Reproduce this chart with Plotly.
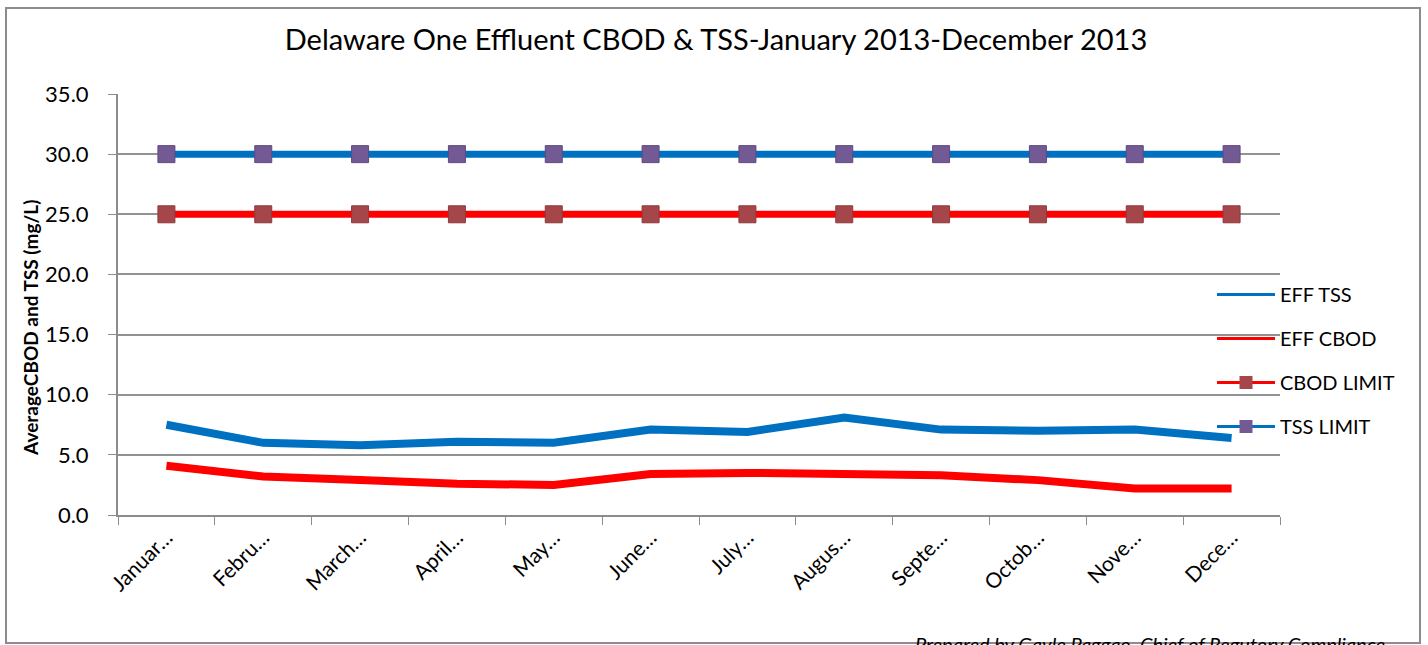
import plotly.graph_objects as go

months = ["Januar…", "Febru…", "March…", "April…", "May…", "June…",
          "July…", "Augus…", "Septe…", "Octob…", "Nove…", "Dece…"]
eff_tss = [7.5, 6.0, 5.8, 6.1, 6.0, 7.1, 6.9, 8.1, 7.1, 7.0, 7.1, 6.4]
eff_cbod = [4.1, 3.2, 2.9, 2.6, 2.5, 3.4, 3.5, 3.4, 3.3, 2.9, 2.2, 2.2]
cbod_limit = [25.0] * 12
tss_limit = [30.0] * 12

BLUE = "#0070C0"
RED = "#FF0000"
CBOD_MK = "#A5464A"
TSS_MK = "#735A95"
FONT = "Lato"

fig = go.Figure()

# data traces (no legend)
fig.add_trace(go.Scatter(x=months, y=eff_tss, mode="lines", line=dict(color=BLUE, width=8),
                         showlegend=False, name="EFF TSS"))
fig.add_trace(go.Scatter(x=months, y=eff_cbod, mode="lines", line=dict(color=RED, width=8),
                         showlegend=False, name="EFF CBOD"))
fig.add_trace(go.Scatter(x=months, y=cbod_limit, mode="lines+markers", line=dict(color=RED, width=7),
                         marker=dict(symbol="square", size=17, color=CBOD_MK, line=dict(color="#8E3A3D", width=1)),
                         showlegend=False, name="CBOD LIMIT"))
fig.add_trace(go.Scatter(x=months, y=tss_limit, mode="lines+markers", line=dict(color=BLUE, width=7),
                         marker=dict(symbol="square", size=17, color=TSS_MK, line=dict(color="#5E4A7D", width=1)),
                         showlegend=False, name="TSS LIMIT"))

# legend entries
fig.add_trace(go.Scatter(x=[None], y=[None], mode="lines", line=dict(color=BLUE, width=3),
                         name="EFF TSS", legendgroup="a"))
fig.add_trace(go.Scatter(x=[None], y=[None], mode="lines", line=dict(color=RED, width=3),
                         name="EFF CBOD", legendgroup="b"))
fig.add_trace(go.Scatter(x=[None], y=[None], mode="lines+markers", line=dict(color=RED, width=3),
                         marker=dict(symbol="square", size=13, color=CBOD_MK),
                         name="CBOD LIMIT", legendgroup="c"))
fig.add_trace(go.Scatter(x=[None], y=[None], mode="lines+markers", line=dict(color=BLUE, width=3),
                         marker=dict(symbol="square", size=13, color=TSS_MK),
                         name="TSS LIMIT", legendgroup="d"))

L, R, T, B = 118, 148, 94, 130
W, H = 1428, 645
pw, ph = W - L - R, H - T - B

def px(x):
    return (x - L) / pw

def py(y):
    return (H - B - y) / ph

fig.update_layout(
    width=W, height=H,
    margin=dict(l=L, r=R, t=T, b=B),
    paper_bgcolor="white", plot_bgcolor="white",
    font=dict(family=FONT, color="black"),
    title=dict(text="Delaware One Effluent CBOD & TSS-January 2013-December 2013",
               x=716 / W, xanchor="center", y=1 - 40 / H, yanchor="middle",
               font=dict(size=29, family=FONT, color="black")),
    legend=dict(x=px(1212), xanchor="left", y=py(275), yanchor="top",
                bgcolor="rgba(0,0,0,0)", font=dict(size=20, family=FONT),
                itemwidth=58, traceorder="grouped", tracegroupgap=15),
    xaxis=dict(type="category", tickson="boundaries", ticks="outside", ticklen=8,
               tickcolor="#8C8C8C", showline=True, linecolor="#8C8C8C", linewidth=2,
               showgrid=False, tickangle=-45, tickfont=dict(size=21, family=FONT),
               range=[-0.5, 11.5]),
    yaxis=dict(range=[0, 35], dtick=5, tickformat=".1f", ticks="outside", ticklen=8,
               tickcolor="#8C8C8C", showline=True, linecolor="#8C8C8C", linewidth=2,
               gridcolor="#929292", gridwidth=1.5, zeroline=False,
               ticklabelstandoff=15,
               tickfont=dict(size=22, family=FONT)),
    shapes=[dict(type="rect", xref="paper", yref="paper",
                 x0=px(6), x1=px(1420), y0=py(643), y1=py(8),
                 line=dict(color="#8C8C8C", width=2), layer="below")],
    annotations=[
        dict(text="<b>AverageCBOD and TSS (mg/L)</b>", xref="paper", yref="paper",
             x=px(30), y=py(328), xanchor="center", yanchor="middle", textangle=-90,
             showarrow=False, font=dict(size=19, family=FONT)),
        dict(text="<i>Prepared by Gayle Paggao, Chief of Regutory Compliance</i>",
             xref="paper", yref="paper", x=px(1150), y=py(630), xanchor="center",
             yanchor="top", showarrow=False, font=dict(size=20, family=FONT)),
    ],
)

fig.write_html("out.html", config={"displayModeBar": False},
               post_script="document.body.style.margin='0';")
